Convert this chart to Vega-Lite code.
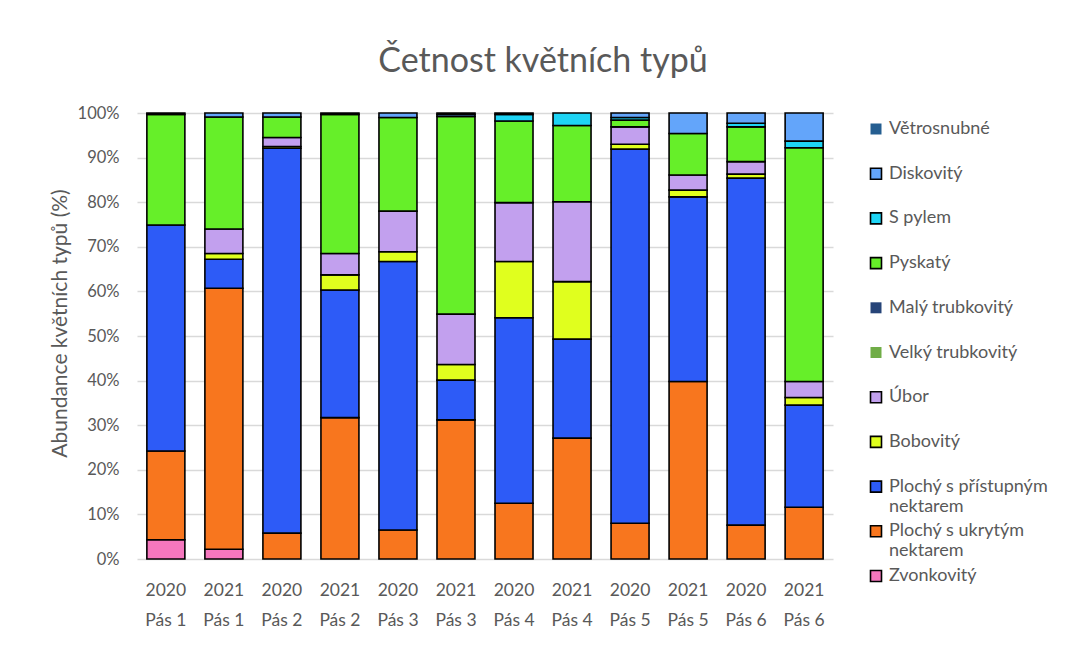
{
  "$schema": "https://vega.github.io/schema/vega-lite/v6.json",
  "width": 696,
  "height": 446,
  "autosize": "none",
  "padding": {"left": 137, "top": 113, "right": 232, "bottom": 112},
  "background": "white",
  "title": {
    "text": "Četnost květních typů",
    "fontSize": 34,
    "font": "Lato",
    "fontWeight": "normal",
    "color": "#595959",
    "anchor": "middle",
    "dx": 58,
    "offset": 26
  },
  "data": {
    "values": [
      {"sample": "2020 Pás 1", "type": "Zvonkovitý", "value": 4.3},
      {"sample": "2020 Pás 1", "type": "Plochý s ukrytým nektarem", "value": 19.9},
      {"sample": "2020 Pás 1", "type": "Plochý s přístupným nektarem", "value": 50.7},
      {"sample": "2020 Pás 1", "type": "Pyskatý", "value": 24.8},
      {"sample": "2020 Pás 1", "type": "Větrosnubné", "value": 0.3},

      {"sample": "2021 Pás 1", "type": "Zvonkovitý", "value": 2.2},
      {"sample": "2021 Pás 1", "type": "Plochý s ukrytým nektarem", "value": 58.5},
      {"sample": "2021 Pás 1", "type": "Plochý s přístupným nektarem", "value": 6.5},
      {"sample": "2021 Pás 1", "type": "Bobovitý", "value": 1.3},
      {"sample": "2021 Pás 1", "type": "Úbor", "value": 5.5},
      {"sample": "2021 Pás 1", "type": "Pyskatý", "value": 25.1},
      {"sample": "2021 Pás 1", "type": "Diskovitý", "value": 0.9},

      {"sample": "2020 Pás 2", "type": "Plochý s ukrytým nektarem", "value": 5.8},
      {"sample": "2020 Pás 2", "type": "Plochý s přístupným nektarem", "value": 86.3},
      {"sample": "2020 Pás 2", "type": "Bobovitý", "value": 0.4},
      {"sample": "2020 Pás 2", "type": "Úbor", "value": 2.0},
      {"sample": "2020 Pás 2", "type": "Pyskatý", "value": 4.6},
      {"sample": "2020 Pás 2", "type": "Diskovitý", "value": 0.9},

      {"sample": "2021 Pás 2", "type": "Plochý s ukrytým nektarem", "value": 31.7},
      {"sample": "2021 Pás 2", "type": "Plochý s přístupným nektarem", "value": 28.6},
      {"sample": "2021 Pás 2", "type": "Bobovitý", "value": 3.4},
      {"sample": "2021 Pás 2", "type": "Úbor", "value": 4.8},
      {"sample": "2021 Pás 2", "type": "Pyskatý", "value": 31.2},
      {"sample": "2021 Pás 2", "type": "Větrosnubné", "value": 0.3},

      {"sample": "2020 Pás 3", "type": "Plochý s ukrytým nektarem", "value": 6.5},
      {"sample": "2020 Pás 3", "type": "Plochý s přístupným nektarem", "value": 60.2},
      {"sample": "2020 Pás 3", "type": "Bobovitý", "value": 2.2},
      {"sample": "2020 Pás 3", "type": "Úbor", "value": 9.1},
      {"sample": "2020 Pás 3", "type": "Pyskatý", "value": 21.0},
      {"sample": "2020 Pás 3", "type": "Diskovitý", "value": 1.0},

      {"sample": "2021 Pás 3", "type": "Plochý s ukrytým nektarem", "value": 31.2},
      {"sample": "2021 Pás 3", "type": "Plochý s přístupným nektarem", "value": 8.9},
      {"sample": "2021 Pás 3", "type": "Bobovitý", "value": 3.5},
      {"sample": "2021 Pás 3", "type": "Úbor", "value": 11.3},
      {"sample": "2021 Pás 3", "type": "Pyskatý", "value": 44.3},
      {"sample": "2021 Pás 3", "type": "Diskovitý", "value": 0.5},
      {"sample": "2021 Pás 3", "type": "Větrosnubné", "value": 0.3},

      {"sample": "2020 Pás 4", "type": "Plochý s ukrytým nektarem", "value": 12.5},
      {"sample": "2020 Pás 4", "type": "Plochý s přístupným nektarem", "value": 41.6},
      {"sample": "2020 Pás 4", "type": "Bobovitý", "value": 12.6},
      {"sample": "2020 Pás 4", "type": "Úbor", "value": 13.2},
      {"sample": "2020 Pás 4", "type": "Pyskatý", "value": 18.3},
      {"sample": "2020 Pás 4", "type": "S pylem", "value": 1.5},
      {"sample": "2020 Pás 4", "type": "Větrosnubné", "value": 0.3},

      {"sample": "2021 Pás 4", "type": "Plochý s ukrytým nektarem", "value": 27.1},
      {"sample": "2021 Pás 4", "type": "Plochý s přístupným nektarem", "value": 22.2},
      {"sample": "2021 Pás 4", "type": "Bobovitý", "value": 12.9},
      {"sample": "2021 Pás 4", "type": "Úbor", "value": 17.9},
      {"sample": "2021 Pás 4", "type": "Pyskatý", "value": 17.1},
      {"sample": "2021 Pás 4", "type": "S pylem", "value": 2.8},

      {"sample": "2020 Pás 5", "type": "Plochý s ukrytým nektarem", "value": 8.0},
      {"sample": "2020 Pás 5", "type": "Plochý s přístupným nektarem", "value": 83.9},
      {"sample": "2020 Pás 5", "type": "Bobovitý", "value": 1.1},
      {"sample": "2020 Pás 5", "type": "Úbor", "value": 3.9},
      {"sample": "2020 Pás 5", "type": "Pyskatý", "value": 1.5},
      {"sample": "2020 Pás 5", "type": "S pylem", "value": 0.6},
      {"sample": "2020 Pás 5", "type": "Diskovitý", "value": 1.0},

      {"sample": "2021 Pás 5", "type": "Plochý s ukrytým nektarem", "value": 39.8},
      {"sample": "2021 Pás 5", "type": "Plochý s přístupným nektarem", "value": 41.4},
      {"sample": "2021 Pás 5", "type": "Bobovitý", "value": 1.5},
      {"sample": "2021 Pás 5", "type": "Úbor", "value": 3.4},
      {"sample": "2021 Pás 5", "type": "Pyskatý", "value": 9.3},
      {"sample": "2021 Pás 5", "type": "Diskovitý", "value": 4.6},

      {"sample": "2020 Pás 6", "type": "Plochý s ukrytým nektarem", "value": 7.6},
      {"sample": "2020 Pás 6", "type": "Plochý s přístupným nektarem", "value": 77.8},
      {"sample": "2020 Pás 6", "type": "Bobovitý", "value": 0.9},
      {"sample": "2020 Pás 6", "type": "Úbor", "value": 2.8},
      {"sample": "2020 Pás 6", "type": "Pyskatý", "value": 7.8},
      {"sample": "2020 Pás 6", "type": "S pylem", "value": 0.8},
      {"sample": "2020 Pás 6", "type": "Diskovitý", "value": 2.3},

      {"sample": "2021 Pás 6", "type": "Plochý s ukrytým nektarem", "value": 11.6},
      {"sample": "2021 Pás 6", "type": "Plochý s přístupným nektarem", "value": 22.9},
      {"sample": "2021 Pás 6", "type": "Bobovitý", "value": 1.7},
      {"sample": "2021 Pás 6", "type": "Úbor", "value": 3.6},
      {"sample": "2021 Pás 6", "type": "Pyskatý", "value": 52.4},
      {"sample": "2021 Pás 6", "type": "S pylem", "value": 1.5},
      {"sample": "2021 Pás 6", "type": "Diskovitý", "value": 6.3}
    ]
  },
  "transform": [
    {"calculate": "indexof(['Zvonkovitý','Plochý s ukrytým nektarem','Plochý s přístupným nektarem','Bobovitý','Úbor','Velký trubkovitý','Malý trubkovitý','Pyskatý','S pylem','Diskovitý','Větrosnubné'], datum.type)", "as": "stackOrder"}
  ],
  "mark": {"type": "bar", "stroke": "#000000", "strokeWidth": 1.6},
  "encoding": {
    "x": {
      "field": "sample",
      "type": "nominal",
      "sort": ["2020 Pás 1","2021 Pás 1","2020 Pás 2","2021 Pás 2","2020 Pás 3","2021 Pás 3","2020 Pás 4","2021 Pás 4","2020 Pás 5","2021 Pás 5","2020 Pás 6","2021 Pás 6"],
      "scale": {"paddingInner": 0.345, "paddingOuter": 0.17},
      "axis": {
        "title": null,
        "labelAngle": 0,
        "labelExpr": "[slice(datum.label, 0, 4), slice(datum.label, 5)]",
        "labelFontSize": 17.5,
        "labelLineHeight": 30,
        "labelPadding": 22,
        "labelBaseline": "top",
        "ticks": false,
        "domain": false,
        "grid": false
      }
    },
    "y": {
      "field": "value",
      "type": "quantitative",
      "stack": "normalize",
      "scale": {"domain": [0, 1], "nice": false},
      "axis": {
        "title": "Abundance květních typů (%)",
        "format": ".0%",
        "values": [0, 0.1, 0.2, 0.3, 0.4, 0.5, 0.6, 0.7, 0.8, 0.9, 1],
        "labelOverlap": false,
        "ticks": false,
        "domain": false,
        "labelPadding": 18,
        "labelFontSize": 16.5,
        "titleFontSize": 21,
        "titleFontWeight": "normal",
        "titlePadding": 7,
        "titleY": 210,
        "gridColor": "#d9d9d9",
        "gridWidth": 1.3
      }
    },
    "order": {"field": "stackOrder", "type": "quantitative", "sort": "ascending"},
    "color": {
      "field": "type",
      "type": "nominal",
      "scale": {
        "domain": ["Zvonkovitý","Plochý s ukrytým nektarem","Plochý s přístupným nektarem","Bobovitý","Úbor","Velký trubkovitý","Malý trubkovitý","Pyskatý","S pylem","Diskovitý","Větrosnubné"],
        "range": ["#f577be","#f8761e","#2d5bf7","#e0ff1e","#c2a0ee","#70ad47","#264478","#66ef29","#1ed4f5","#63a5fa","#255e91"]
      },
      "legend": {
        "title": null,
        "values": ["Větrosnubné","Diskovitý","S pylem","Pyskatý","Malý trubkovitý","Velký trubkovitý","Úbor","Bobovitý","Plochý s přístupným nektarem","Plochý s ukrytým nektarem","Zvonkovitý"],
        "labelExpr": "indexof(datum.label, ' nektarem') > 0 ? [replace(datum.label, ' nektarem', ''), 'nektarem'] : datum.label",
        "symbolType": "square",
        "symbolSize": 121,
        "symbolStrokeWidth": 1.6,
        "symbolStrokeColor": "#000000",
        "symbolOpacity": 1,
        "labelFontSize": 18,
        "labelLineHeight": 22,
        "labelLimit": 300,
        "gridAlign": "all",
        "rowPadding": 6.7,
        "offset": 27,
        "padding": 7,
        "encode": {
          "symbols": {
            "update": {
              "stroke": {"signal": "indexof(['Větrosnubné','Malý trubkovitý','Velký trubkovitý'], datum.value) >= 0 ? 'transparent' : '#000000'"}
            }
          }
        }
      }
    }
  },
  "config": {
    "font": "Lato",
    "view": {"stroke": null},
    "axis": {"labelColor": "#595959", "titleColor": "#595959", "labelFont": "Lato", "titleFont": "Lato"},
    "legend": {"labelColor": "#595959", "labelFont": "Lato"}
  }
}
